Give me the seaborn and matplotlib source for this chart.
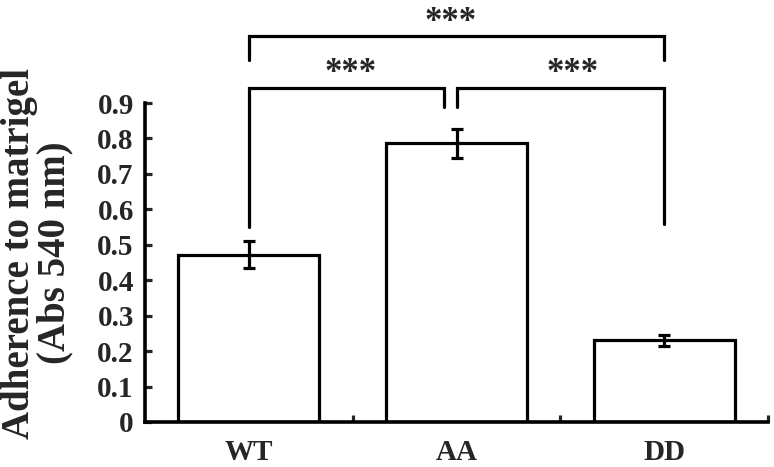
import numpy as np
import pandas as pd
import matplotlib
matplotlib.use("Agg")
import matplotlib.pyplot as plt
import seaborn as sns

# data
groups = ["WT", "AA", "DD"]
adherence = [0.472, 0.786, 0.230]
sem = [0.038, 0.042, 0.016]
yticks = [0, 0.1, 0.2, 0.3, 0.4, 0.5, 0.6, 0.7, 0.8, 0.9]
ytick_labels = ["0", "0.1", "0.2", "0.3", "0.4", "0.5", "0.6", "0.7", "0.8", "0.9"]

sns.set_theme(style="white")
plt.rcParams['font.family'] = ['Liberation Serif', 'DejaVu Serif']
plt.rcParams['font.weight'] = 'bold'

df = pd.DataFrame({'group': groups, 'value': adherence, 'err': sem})

fig = plt.figure(figsize=(7.74, 4.67), dpi=100)
ax = fig.add_axes([0.1873, 0.0964, 0.805, 0.683])

sns.barplot(data=df, x='group', y='value', ax=ax, color='white',
            edgecolor='black', linewidth=2.3, width=0.68, errorbar=None,
            saturation=1)
ax.errorbar(np.arange(len(groups)), df['value'], yerr=df['err'], fmt='none',
            ecolor='black', elinewidth=2.3, capsize=4.5, capthick=2.3, zorder=5)

ax.set_xlim(-0.5, 2.5)
ax.set_ylim(0, 0.9)
ax.set_yticks(yticks)
ax.set_yticklabels(ytick_labels)
ax.set_xlabel('')
ax.set_ylabel('')

for s in ['top', 'right']:
    ax.spines[s].set_visible(False)
for s in ['left', 'bottom']:
    ax.spines[s].set_linewidth(2.6)
    ax.spines[s].set_color('black')

ax.tick_params(axis='y', direction='in', length=5, width=2.3, pad=8,
               labelsize=21, left=True)
ax.set_xticks([0.5, 1.5, 2.5], minor=True)
ax.tick_params(axis='x', which='minor', direction='in', length=5, width=2.3, bottom=True)
ax.tick_params(axis='x', which='major', length=0, pad=12, labelsize=21)
for lab in ax.get_xticklabels() + ax.get_yticklabels():
    lab.set_fontweight('bold')

fig.text(0.048, 0.458, 'Adherence to matrigel\n(Abs 540 nm)', rotation=90,
         ha='center', va='center', fontsize=28, fontweight='bold', linespacing=0.95)

# significance brackets: (x1, x2, top, left leg end, right leg end, star x, star y)
brackets = [
    (0.0, 2.0, 1.088, 1.02, 1.02, 0.97, 1.128),
    (0.0, 0.94, 0.943, 0.55, 0.89, 0.49, 0.982),
    (1.0, 2.0, 0.943, 0.89, 0.56, 1.56, 0.982),
]
for x1, x2, top, l1, l2, sx, sy in brackets:
    ax.plot([x1, x1, x2, x2], [l1, top, top, l2], color='black', lw=2.3,
            clip_on=False, solid_joinstyle='miter')
    ax.text(sx, sy, '***', ha='center', va='center', fontsize=25,
            fontweight='bold', clip_on=False)

fig.savefig('out.png', dpi=100)
